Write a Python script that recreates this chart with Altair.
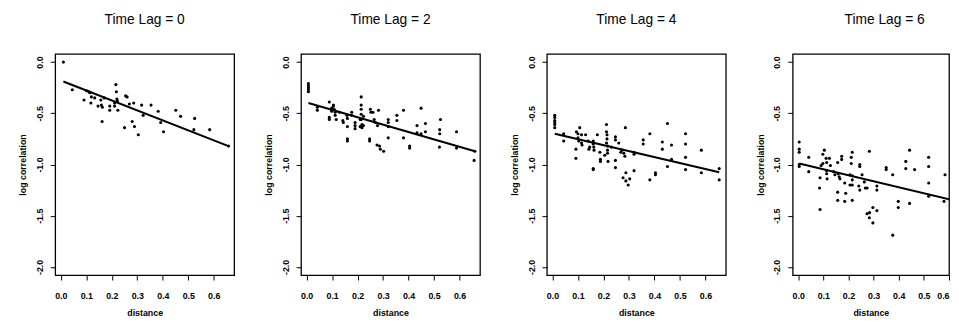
import altair as alt
import pandas as pd

titles = ["Time Lag = 0", "Time Lag = 2", "Time Lag = 4", "Time Lag = 6"]
x_ticks = [0.0, 0.1, 0.2, 0.3, 0.4, 0.5, 0.6]
y_ticks = [0.0, -0.5, -1.0, -1.5, -2.0]
x_domain = [-0.022, 0.68]
x_domain_last = [-0.022, 0.6]   # the last panel is cut off at the right edge in the reference
y_domain = [-2.08, 0.08]

# ---- Time Lag = 0 ----
dist_0 = [0.010, 0.045, 0.091, 0.101, 0.110, 0.114, 0.118, 0.120, 0.133, 0.146,
          0.157, 0.159, 0.163, 0.162, 0.170, 0.192, 0.192, 0.211, 0.211, 0.216,
          0.218, 0.220, 0.222, 0.224, 0.250, 0.254, 0.260, 0.269, 0.280, 0.286,
          0.289, 0.304, 0.317, 0.323, 0.354, 0.382, 0.392, 0.403, 0.451, 0.470,
          0.525, 0.522, 0.584, 0.658]
logcor_0 = [0.00, -0.27, -0.37, -0.28, -0.29, -0.30, -0.40, -0.34, -0.35, -0.43,
            -0.37, -0.42, -0.44, -0.58, -0.35, -0.43, -0.47, -0.43, -0.40, -0.22,
            -0.29, -0.36, -0.38, -0.47, -0.64, -0.33, -0.34, -0.41, -0.58, -0.40,
            -0.63, -0.71, -0.42, -0.52, -0.42, -0.48, -0.59, -0.68, -0.47, -0.53,
            -0.55, -0.66, -0.66, -0.82]
fit_dist_0 = [0.010, 0.658]
fit_logcor_0 = [-0.19, -0.82]

# ---- Time Lag = 2 ----
dist_2 = [0.007, 0.007, 0.007, 0.007, 0.007, 0.042, 0.042, 0.089, 0.089, 0.089,
          0.098, 0.098, 0.105, 0.105, 0.108, 0.112, 0.112, 0.116, 0.129, 0.142,
          0.144, 0.158, 0.160, 0.160, 0.160, 0.160, 0.177, 0.177, 0.190, 0.190,
          0.190, 0.210, 0.210, 0.214, 0.214, 0.214, 0.214, 0.214, 0.217, 0.217,
          0.223, 0.223, 0.247, 0.247, 0.250, 0.252, 0.260, 0.265, 0.270, 0.278,
          0.282, 0.276, 0.286, 0.289, 0.302, 0.320, 0.320, 0.320, 0.320, 0.354,
          0.354, 0.380, 0.380, 0.404, 0.404, 0.433, 0.433, 0.449, 0.449, 0.466,
          0.466, 0.525, 0.522, 0.522, 0.521, 0.588, 0.588, 0.660, 0.657]
logcor_2 = [-0.21, -0.23, -0.25, -0.27, -0.29, -0.44, -0.47, -0.39, -0.54, -0.56,
            -0.45, -0.48, -0.42, -0.43, -0.46, -0.49, -0.52, -0.56, -0.49, -0.57,
            -0.59, -0.52, -0.55, -0.63, -0.75, -0.77, -0.49, -0.52, -0.59, -0.62,
            -0.65, -0.56, -0.63, -0.34, -0.42, -0.46, -0.51, -0.56, -0.61, -0.64,
            -0.53, -0.62, -0.75, -0.77, -0.46, -0.49, -0.49, -0.56, -0.59, -0.62,
            -0.47, -0.81, -0.82, -0.85, -0.87, -0.56, -0.59, -0.63, -0.74, -0.52,
            -0.57, -0.47, -0.74, -0.82, -0.84, -0.62, -0.69, -0.45, -0.70, -0.60,
            -0.68, -0.56, -0.66, -0.70, -0.83, -0.68, -0.84, -0.87, -0.96]
fit_dist_2 = [0.007, 0.660]
fit_logcor_2 = [-0.40, -0.87]

# ---- Time Lag = 4 ----
dist_4 = [0.009, 0.009, 0.009, 0.009, 0.009, 0.009, 0.044, 0.044, 0.092, 0.092,
          0.094, 0.100, 0.107, 0.100, 0.103, 0.114, 0.114, 0.116, 0.130, 0.140,
          0.143, 0.146, 0.160, 0.160, 0.162, 0.163, 0.160, 0.160, 0.176, 0.186,
          0.188, 0.188, 0.205, 0.212, 0.212, 0.214, 0.214, 0.212, 0.216, 0.216,
          0.216, 0.218, 0.231, 0.247, 0.247, 0.247, 0.247, 0.260, 0.268, 0.273,
          0.280, 0.277, 0.288, 0.297, 0.286, 0.288, 0.284, 0.303, 0.320, 0.320,
          0.320, 0.356, 0.356, 0.382, 0.382, 0.404, 0.404, 0.431, 0.431, 0.451,
          0.451, 0.467, 0.467, 0.522, 0.522, 0.522, 0.522, 0.584, 0.584, 0.654,
          0.654]
logcor_4 = [-0.52, -0.54, -0.57, -0.59, -0.61, -0.64, -0.70, -0.77, -0.85, -0.94,
            -0.68, -0.70, -0.64, -0.74, -0.77, -0.71, -0.79, -0.81, -0.71, -0.77,
            -0.85, -0.83, -0.77, -0.80, -0.83, -0.86, -1.04, -1.05, -0.71, -0.88,
            -0.95, -0.97, -0.91, -0.61, -0.68, -0.71, -0.75, -0.79, -0.82, -0.86,
            -0.89, -0.97, -0.83, -0.73, -0.76, -0.96, -1.03, -0.79, -0.88, -0.86,
            -0.89, -1.13, -1.16, -1.20, -0.64, -1.08, -0.92, -1.14, -0.88, -0.90,
            -1.06, -0.76, -0.80, -0.70, -1.15, -1.08, -1.10, -0.78, -0.85, -0.60,
            -1.02, -0.81, -0.95, -0.70, -0.80, -0.93, -1.05, -0.86, -1.08, -1.04,
            -1.15]
fit_dist_4 = [0.009, 0.654]
fit_logcor_4 = [-0.70, -1.075]

# ---- Time Lag = 6 ----
dist_6 = [0.004, 0.004, 0.004, 0.004, 0.004, 0.042, 0.042, 0.085, 0.087, 0.087,
          0.091, 0.098, 0.098, 0.104, 0.111, 0.113, 0.113, 0.113, 0.115, 0.124,
          0.128, 0.141, 0.146, 0.157, 0.157, 0.157, 0.159, 0.163, 0.166, 0.173,
          0.173, 0.185, 0.185, 0.189, 0.206, 0.206, 0.211, 0.211, 0.215, 0.215,
          0.215, 0.215, 0.215, 0.245, 0.245, 0.241, 0.245, 0.254, 0.263, 0.267,
          0.274, 0.274, 0.284, 0.283, 0.283, 0.297, 0.297, 0.313, 0.313, 0.313,
          0.350, 0.350, 0.376, 0.376, 0.398, 0.398, 0.428, 0.428, 0.443, 0.443,
          0.463, 0.519, 0.519, 0.519, 0.519, 0.584, 0.580]
logcor_6 = [-0.78, -0.85, -0.88, -1.00, -1.02, -0.93, -1.07, -1.23, -1.44, -1.13,
            -1.01, -0.90, -0.99, -0.86, -0.94, -0.98, -1.06, -1.09, -1.14, -0.94,
            -1.01, -1.07, -1.10, -0.98, -1.27, -1.35, -1.09, -1.12, -1.14, -0.92,
            -0.95, -1.18, -1.36, -1.28, -1.10, -1.20, -0.93, -0.99, -0.88, -1.11,
            -1.15, -1.20, -1.35, -1.00, -1.02, -1.21, -1.25, -1.10, -1.17, -1.23,
            -1.23, -1.48, -1.47, -0.87, -1.52, -1.42, -1.57, -1.21, -1.25, -1.45,
            -1.03, -1.05, -1.10, -1.69, -1.36, -1.42, -0.97, -1.04, -0.86, -1.38,
            -1.05, -0.93, -1.02, -1.18, -1.31, -1.10, -1.36]
fit_dist_6 = [0.004, 0.660]
fit_logcor_6 = [-0.99, -1.375]

LABEL_EXPR = "datum.value < 0 ? '-' + format(-datum.value, '.1f') : format(datum.value, '.1f')"
FONT = "Liberation Sans"


def x_axis(flush):
    return alt.Axis(
        values=x_ticks, labelExpr=LABEL_EXPR, domain=False, grid=False,
        tickSize=5, tickColor="black", tickWidth=1,
        labelFont=FONT, labelFontSize=9, labelFontWeight="bold", labelColor="black",
        labelPadding=12, labelFlush=flush, labelOverlap=False,
        titleFont=FONT, titleFontSize=9, titleFontWeight="bold", titleColor="black",
        titlePadding=8,
    )


y_axis = alt.Axis(
    values=y_ticks, labelExpr=LABEL_EXPR, domain=False, grid=False,
    tickSize=5, tickColor="black", tickWidth=1,
    labelFont=FONT, labelFontSize=9, labelFontWeight="bold", labelColor="black",
    labelAngle=270, labelAlign="center", labelBaseline="bottom",
    labelPadding=6, labelFlush=False, labelOverlap=False,
    titleFont=FONT, titleFontSize=9, titleFontWeight="bold", titleColor="black",
    titleAngle=270, titleBaseline="bottom", titlePadding=8,
)


def panel(title, xs, ys, fx, fy, width=182, xdom=x_domain, title_dx=0, flush=False):
    pts = pd.DataFrame({"distance": xs, "logcor": ys})
    fit = pd.DataFrame({"distance": fx, "logcor": fy})
    x = alt.X("distance:Q", title="distance", axis=x_axis(flush),
              scale=alt.Scale(domain=xdom, nice=False, zero=False))
    y = alt.Y("logcor:Q", title="log correlation", axis=y_axis,
              scale=alt.Scale(domain=y_domain, nice=False, zero=False))
    points = alt.Chart(pts).mark_circle(size=10, color="black", opacity=1, clip=True).encode(x=x, y=y)
    line = alt.Chart(fit).mark_line(color="black", strokeWidth=2, clip=True).encode(x=x, y=y)
    return alt.layer(points, line).properties(
        width=width, height=225,
        view=alt.ViewBackground(stroke="black", strokeWidth=1.3, fill="white"),
        title=alt.TitleParams(
            text=title, font=FONT, fontSize=14, fontWeight="normal", color="black",
            anchor="middle", frame="group", baseline="alphabetic", offset=16, dx=title_dx,
        ),
    )


panels = [
    panel(titles[0], dist_0, logcor_0, fit_dist_0, fit_logcor_0),
    panel(titles[1], dist_2, logcor_2, fit_dist_2, fit_logcor_2),
    panel(titles[2], dist_4, logcor_4, fit_dist_4, fit_logcor_4),
    panel(titles[3], dist_6, logcor_6, fit_dist_6, fit_logcor_6,
          width=159, xdom=x_domain_last, title_dx=14, flush=True),
]

chart = (
    alt.hconcat(*panels, spacing=29)
    .properties(padding={"left": 10, "top": 2, "right": 0, "bottom": 0})
    .configure(background="white")
    .configure_view(stroke="black", strokeWidth=1.3)
)

chart.save("out.html", embed_options={"renderer": "svg", "actions": False})
